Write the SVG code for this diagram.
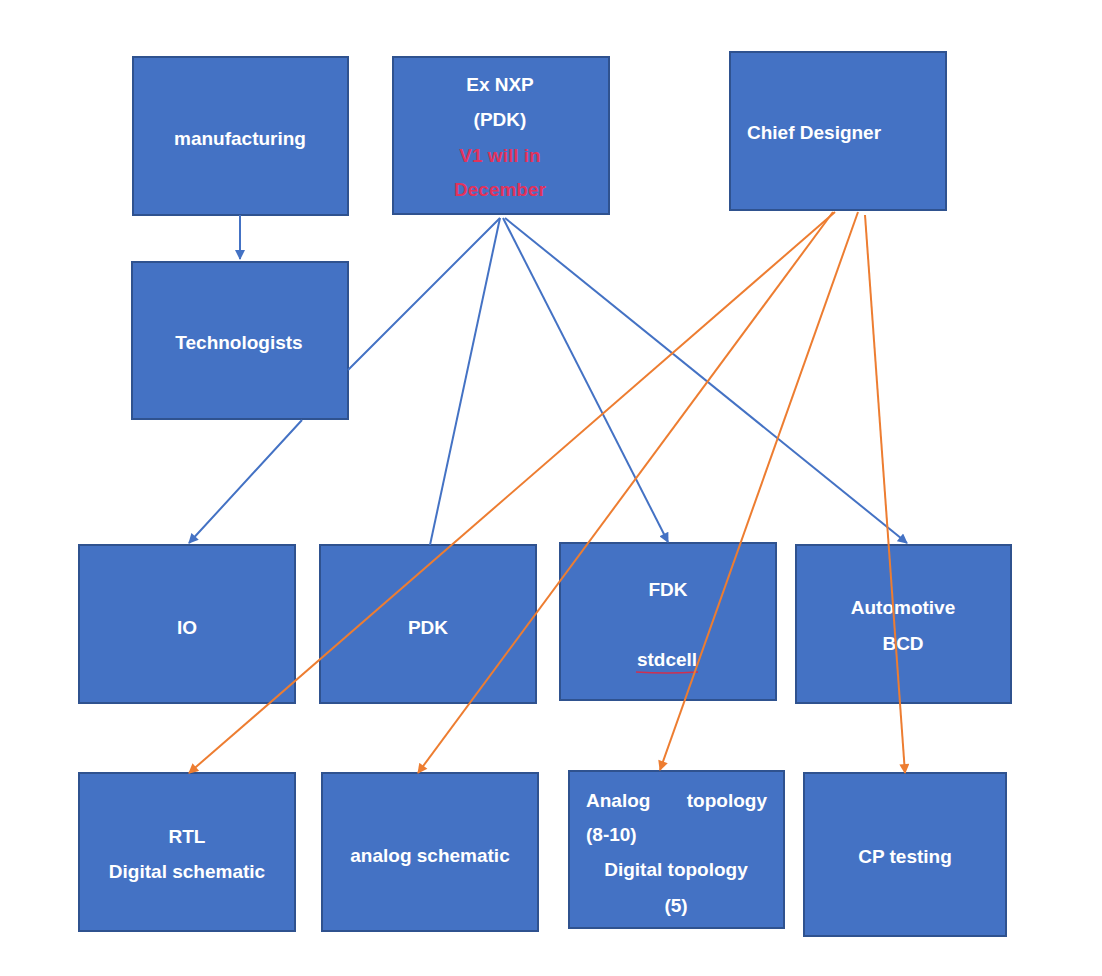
<svg xmlns="http://www.w3.org/2000/svg" width="1102" height="976" viewBox="0 0 1102 976">
<style>
.box{fill:#4472C4;stroke:#2F528F;stroke-width:2}
.t{font-family:"Liberation Sans",Arial,sans-serif;font-size:19px;font-weight:bold;fill:#FFFFFF;text-anchor:middle}
.l{text-anchor:start}
.r{text-anchor:end}
.red{fill:#E2335C}
.blue{stroke:#4472C4;stroke-width:2;fill:none}
.orange{stroke:#ED7D31;stroke-width:2;fill:none}
</style>
<defs>
<marker id="ab" viewBox="0 0 10 10" refX="9" refY="5" markerWidth="11" markerHeight="10" markerUnits="userSpaceOnUse" orient="auto"><path d="M0,0 L10,5 L0,10 z" fill="#4472C4"/></marker>
<marker id="ao" viewBox="0 0 10 10" refX="9" refY="5" markerWidth="11" markerHeight="10" markerUnits="userSpaceOnUse" orient="auto"><path d="M0,0 L10,5 L0,10 z" fill="#ED7D31"/></marker>
</defs>
<rect width="1102" height="976" fill="#FFFFFF"/>
<g id="nodes">
<g id="manufacturing"><rect class="box" x="133" y="57" width="215" height="158"/><text class="t" x="240" y="145">manufacturing</text></g>
<g id="exnxp"><rect class="box" x="393" y="57" width="216" height="157"/><text class="t" x="500" y="91">Ex NXP</text><text class="t" x="500" y="126">(PDK)</text><text class="t red" x="500" y="162">V1 will in</text><text class="t red" x="500" y="196">December</text></g>
<g id="chief"><rect class="box" x="730" y="52" width="216" height="158"/><text class="t l" x="747" y="139">Chief Designer</text></g>
<g id="technologists"><rect class="box" x="132" y="262" width="216" height="157"/><text class="t" x="239" y="349">Technologists</text></g>
<g id="io"><rect class="box" x="79" y="545" width="216" height="158"/><text class="t" x="187" y="634">IO</text></g>
<g id="pdk"><rect class="box" x="320" y="545" width="216" height="158"/><text class="t" x="428" y="634">PDK</text></g>
<g id="fdk"><rect class="box" x="560" y="543" width="216" height="157"/><text class="t" x="668" y="596">FDK</text><text class="t" x="667" y="666">stdcell</text><path d="M636,672 Q667,674 698,672" stroke="#D03050" stroke-width="1.5" fill="none"/></g>
<g id="automotive"><rect class="box" x="796" y="545" width="215" height="158"/><text class="t" x="903" y="614">Automotive</text><text class="t" x="903" y="650">BCD</text></g>
<g id="rtl"><rect class="box" x="79" y="773" width="216" height="158"/><text class="t" x="187" y="843">RTL</text><text class="t" x="187" y="878">Digital schematic</text></g>
<g id="analogsch"><rect class="box" x="322" y="773" width="216" height="158"/><text class="t" x="430" y="862">analog schematic</text></g>
<g id="topology"><rect class="box" x="569" y="771" width="215" height="157"/><text class="t l" x="586" y="807">Analog</text><text class="t r" x="767" y="807">topology</text><text class="t l" x="586" y="841">(8-10)</text><text class="t" x="676" y="876">Digital topology</text><text class="t" x="676" y="912">(5)</text></g>
<g id="cptesting"><rect class="box" x="804" y="773" width="202" height="163"/><text class="t" x="905" y="863">CP testing</text></g>
</g>
<g id="connectors">
<line class="blue" x1="240" y1="215" x2="240" y2="259" marker-end="url(#ab)"/>
<path class="blue" d="M500,218 L348,370 M302,420 L189,543" marker-end="url(#ab)"/>
<line class="blue" x1="500" y1="218" x2="430" y2="545"/>
<line class="blue" x1="503" y1="218" x2="668" y2="542" marker-end="url(#ab)"/>
<line class="blue" x1="505" y1="218" x2="907" y2="543" marker-end="url(#ab)"/>
<line class="orange" x1="835" y1="212" x2="189" y2="773" marker-end="url(#ao)"/>
<line class="orange" x1="833" y1="212" x2="418" y2="773" marker-end="url(#ao)"/>
<line class="orange" x1="858" y1="212" x2="660" y2="770" marker-end="url(#ao)"/>
<line class="orange" x1="865" y1="215" x2="905" y2="773" marker-end="url(#ao)"/>
</g>
</svg>
